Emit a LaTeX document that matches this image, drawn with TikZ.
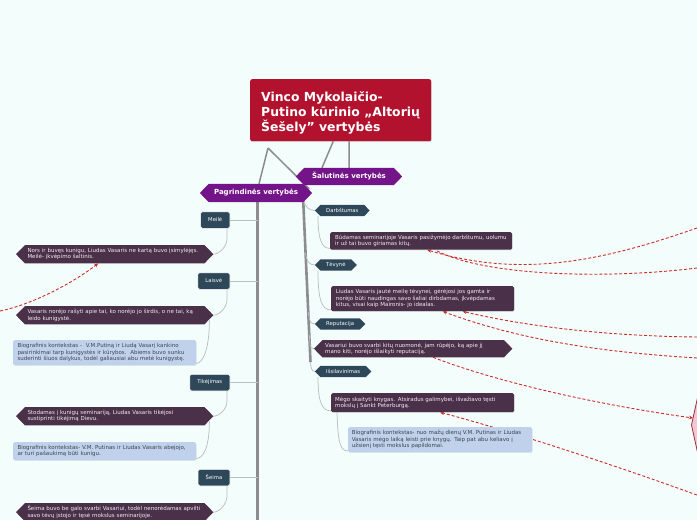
\documentclass[tikz,border=0pt]{standalone}
\usepackage{fontspec}
\setmainfont{DejaVu Sans}
\usetikzlibrary{arrows.meta,calc,shadows}
\definecolor{bgc}{HTML}{F3FEFC}
\definecolor{titlered}{HTML}{B3122E}
\definecolor{mainpurple}{HTML}{741489}
\definecolor{slate}{HTML}{2E4859}
\definecolor{notepurple}{HTML}{4A3049}
\definecolor{notetext}{HTML}{F2EEF2}
\definecolor{bluenotec}{HTML}{BFD1EB}
\definecolor{bluetext}{HTML}{3E4450}
\definecolor{connc}{HTML}{B9C0C0}
\definecolor{trunkc}{HTML}{8C8C8C}
\definecolor{relc}{HTML}{CC2B2B}
\definecolor{pinkc}{HTML}{F2C8D0}
\definecolor{pinkb}{HTML}{9E2A44}
\newcommand\fsnote{\fontsize{5.5}{6.4}\selectfont}
\newcommand\fslabel{\fontsize{5.3}{6.4}\selectfont}
\newcommand\fsmain{\fontsize{7}{8.4}\selectfont\bfseries}
\newcommand\fstitle{\fontsize{12.4}{15.3}\selectfont\bfseries}
\newcommand\LineBox[1]{\mbox{#1}}
\newcommand\hexfill[3]{\fill[#2] (#1.north west) -- (#1.north east) -- ([xshift=#3]#1.east) -- (#1.south east) -- (#1.south west) -- ([xshift=-#3]#1.west) -- cycle;}
\pgfdeclarelayer{bglayer}
\pgfdeclarelayer{edgelayer}
\pgfdeclarelayer{filllayer}
\pgfsetlayers{bglayer,edgelayer,filllayer,main}
\begin{document}
\begin{tikzpicture}[x=1pt,y=-1pt,
  conn/.style={draw=connc,line width=0.75pt},
  trunk/.style={draw=trunkc,line width=2.6pt},
  topline/.style={draw=trunkc,line width=1.5pt},
  rel/.style={draw=relc,line width=0.9pt,dash pattern=on 3pt off 2pt},
  relarrow/.style={rel,-{Stealth[length=4pt,width=3.6pt]}},
  softshadow/.style={drop shadow={opacity=0.18,shadow xshift=0.5pt,shadow yshift=-0.7pt}},
  titlebox/.style={fill=titlered,rounded corners=2pt,inner sep=0pt,drop shadow={opacity=0.25,shadow xshift=0.6pt,shadow yshift=-0.8pt}},
  titletext/.style={text=white,font=\fstitle,align=left,inner sep=0pt},
  mainlabel/.style={text=white,font=\fsmain,inner sep=0pt},
  slatebox/.style={fill=slate,draw=white,line width=0.5pt,rounded corners=1.5pt,text=white,font=\fslabel,inner xsep=7.5pt,inner ysep=0pt,minimum height=16.5pt,softshadow},
  hexlabel/.style={text=white,font=\fslabel,inner xsep=5.5pt,inner ysep=0pt,minimum height=11pt},
  darknote/.style={fill=notepurple,rounded corners=1.5pt,text=notetext,font=\fsnote,align=left,inner ysep=0pt,anchor=north west,softshadow},
  hexnote/.style={text=notetext,font=\fsnote,align=left,inner ysep=0pt,anchor=north west},
  bluenote/.style={fill=bluenotec,rounded corners=1.5pt,text=bluetext,font=\fsnote,align=left,inner ysep=0pt,anchor=north west,softshadow},
]
\useasboundingbox (0,0) rectangle (697,520);
\begin{pgfonlayer}{bglayer}
\fill[bgc] (0,0) rectangle (697,520);
\end{pgfonlayer}

% title
\node[titlebox,anchor=north west,minimum width=181pt,minimum height=62pt] (title) at (250,79) {};
\node[titletext,anchor=north west] (titletxt) at (261,91) {Vinco Mykolaičio-\\Putino kūrinio ,,Altorių\\Šešely" vertybės};

% main branches
\node[mainlabel,minimum width=94pt,minimum height=18pt] (pag) at (256,193) {Pagrindinės vertybės};
\node[mainlabel,minimum width=89pt,minimum height=17pt] (sal) at (349,176.5) {Šalutinės vertybės};

% left labels
\node[slatebox,anchor=east] (meile) at (230,220) {Meilė};
\node[slatebox,anchor=east] (laisve) at (230,281) {Laisvė};
\node[slatebox,anchor=east] (tikejimas) at (230,382.5) {Tikėjimas};
\node[slatebox,anchor=east] (seima) at (230,477.5) {Šeima};

% left notes
\node[hexnote,inner xsep=2.3pt,text width=174.4pt,minimum height=18pt] (n1) at (25,245)
  {\LineBox{Nors ir buvęs kunigu, Liudas Vasaris ne kartą buvo įsimylėjęs.}\\\LineBox{Meilė- įkvėpimo šaltinis.}};
\node[hexnote,inner xsep=2.3pt,text width=174.4pt,minimum height=18pt] (n2) at (25,306)
  {\LineBox{Vasaris norėjo rašyti apie tai, ko norėjo jo širdis, o ne tai, ką}\\\LineBox{leido kunigystė.}};
\node[bluenote,inner xsep=4.3pt,text width=174.4pt,minimum height=25pt] (n3) at (13,340)
  {\LineBox{Biografinis kontekstas -\ \ V.M.Putiną ir Liudą Vasarį kankino}\\\LineBox{pasirinkimai tarp kunigystės ir kūrybos.\ \ Abiems buvo sunku}\\\LineBox{suderinti šiuos dalykus, todėl galiausiai abu metė kunigystę.}};
\node[hexnote,inner xsep=2.3pt,text width=174.4pt,minimum height=18pt] (n4) at (25,407)
  {\LineBox{Stodamas į kunigų seminariją, Liudas Vasaris tikėjosi}\\\LineBox{sustiprinti tikėjimą Dievu.}};
\node[bluenote,inner xsep=4.3pt,text width=174.4pt,minimum height=18pt] (n5) at (13,442)
  {\LineBox{Biografinis kontekstas- V.M. Putinas ir Liudas Vasaris abejojo,}\\\LineBox{ar turi pašaukimą būti kunigu.}};
\node[hexnote,inner xsep=2.3pt,text width=174.4pt,minimum height=18pt] (n6) at (25,503)
  {\LineBox{Šeima buvo be galo svarbi Vasariui, todėl nenorėdamas apvilti}\\\LineBox{savo tėvų įstojo ir tęsė mokslus seminarijoje.}};

% right labels and notes
\node[hexlabel,anchor=west] (darb) at (320.5,210.5) {Darbštumas};
\node[darknote,inner xsep=5pt,text width=172pt,minimum height=17.5pt] (r1) at (330,232)
  {\LineBox{Būdamas seminarijoje Vasaris pasižymėjo darbštumu, uolumu}\\\LineBox{ir už tai buvo giriamas kitų.}};
\node[hexlabel,anchor=west] (tevyne) at (320.5,265) {Tėvynė};
\node[darknote,inner xsep=4.7pt,text width=173.6pt,minimum height=25pt] (r2) at (331,286)
  {\LineBox{Liudas Vasaris jautė meilę tėvynei, gėrėjosi jos gamta ir}\\\LineBox{norėjo būti naudingas savo šaliai dirbdamas, įkvėpdamas}\\\LineBox{kitus, visai kaip Maironis- jo idealas.}};
\node[hexlabel,anchor=west] (reput) at (320.5,324) {Reputacija};
\node[hexnote,inner xsep=2.5pt,text width=176pt,minimum height=17pt] (r3) at (322.5,340)
  {\LineBox{Vasariui buvo svarbi kitų nuomonė, jam rūpėjo, ką apie jį}\\\LineBox{mano kiti, norėjo išlaikyti reputaciją.}};
\node[hexlabel,anchor=west] (issil) at (320.5,371.5) {Išsilavinimas};
\node[darknote,inner xsep=4pt,text width=175pt,minimum height=19pt] (r4) at (331,393)
  {\LineBox{Mėgo skaityti knygas. Atsiradus galimybei, išvažiavo tęsti}\\\LineBox{mokslų į Sankt Peterburgą.}};
\node[bluenote,inner xsep=3.7pt,text width=176.6pt,minimum height=25pt] (r5) at (348,427)
  {\LineBox{Biografinis kontekstas- nuo mažų dienų V.M. Putinas ir Liudas}\\\LineBox{Vasaris mėgo laiką leisti prie knygų. Taip pat abu keliavo į}\\\LineBox{užsienį tęsti mokslus papildomai.}};

% free ends
\coordinate (peak) at (268,148);
\coordinate (trunkend) at (257.5,525);
\coordinate (rtop) at (302.5,185);
\coordinate (rbot) at (310.5,362);
\coordinate (xa) at (697,228);
\coordinate (xb) at (697,268);
\coordinate (xc) at (697,337);
\coordinate (xd) at (697,358);
\coordinate (xf) at (697,495);
\coordinate (xg) at (0,311);
\coordinate (pinktip) at (691.5,425);
\coordinate (pinkin) at (693,418);

% fills
\begin{pgfonlayer}{filllayer}
\hexfill{pag}{mainpurple}{9pt}
\hexfill{sal}{mainpurple}{8.5pt}
\hexfill{darb}{slate}{5.5pt}
\hexfill{tevyne}{slate}{5.5pt}
\hexfill{reput}{slate}{5.5pt}
\hexfill{issil}{slate}{5.5pt}
\hexfill{n1}{notepurple}{9pt}
\hexfill{n2}{notepurple}{9pt}
\hexfill{n4}{notepurple}{9pt}
\hexfill{n6}{notepurple}{9pt}
\hexfill{r3}{notepurple}{8.5pt}
\fill[pinkc,draw=pinkb,line width=0.8pt] (pinktip) -- (699,391) -- (720,391) -- (720,459) -- (699,459) -- cycle;
\end{pgfonlayer}

% connectors
\begin{pgfonlayer}{edgelayer}
\draw[topline] (peak) -- ([xshift=3pt]pag.north);
\draw[topline] (peak) -- ([xshift=6pt,yshift=-5pt]pag.north east);
\draw[topline] ([xshift=-7.5pt]title.south) -- ([xshift=-27pt]sal.north);
\draw[topline] ([xshift=8.5pt]title.south) -- (sal.north);

\draw[trunk] ([xshift=1.5pt]pag.south) -- (trunkend);
\draw[conn] (meile.east) -- (meile.east -| trunkend);
\draw[conn] (laisve.east) -- (laisve.east -| trunkend);
\draw[conn] (tikejimas.east) -- (tikejimas.east -| trunkend);
\draw[conn] (seima.east) -- (seima.east -| trunkend);

\draw[conn] ([xshift=-3pt]meile.south east) -- ++(0,10) .. controls +(0,8) and +(6,0) .. ([xshift=9pt]n1.east);
\draw[conn] ([xshift=-3pt]laisve.south east) -- ++(0,10) .. controls +(0,8) and +(6,0) .. ([xshift=9pt]n2.east);
\draw[conn] ([xshift=-3pt]tikejimas.south east) -- ++(0,10) .. controls +(0,8) and +(6,0) .. ([xshift=9pt]n4.east);
\draw[conn] ([xshift=-3pt]seima.south east) -- ++(0,10) .. controls +(0,8) and +(6,0) .. ([xshift=9pt]n6.east);
\draw[conn] ([xshift=5pt,yshift=4pt]n2.south east) .. controls +(0,30) and +(6,0) .. ([yshift=2pt]n3.south east);
\draw[conn] ([xshift=5pt,yshift=4pt]n4.south east) .. controls +(0,28) and +(6,0) .. ([yshift=2pt]n5.south east);

\draw[trunk] (rtop) -- (rbot);
\draw[conn] ($(rtop)!0.073!(rbot)$) .. controls +(1,9) and +(-6,0) .. ([xshift=-5.5pt]darb.west);
\draw[conn] ($(rtop)!0.384!(rbot)$) .. controls +(1,8) and +(-6,0) .. ([xshift=-5.5pt]tevyne.west);
\draw[conn] ($(rtop)!0.717!(rbot)$) .. controls +(1,8) and +(-5,0) .. ([xshift=-5.5pt]reput.west);
\draw[conn] ($(rtop)!0.847!(rbot)$) .. controls +(1,9) and +(-5,0) .. ([xshift=-8.5pt]r3.west);
\draw[conn] (rbot) .. controls +(0.5,7) and +(-3,0) .. ([xshift=-5.5pt]issil.west);
\draw[conn] ([xshift=-2.5pt]darb.south west) .. controls +(0,24) and +(-8,0) .. ([yshift=1.5pt]r1.south west);
\draw[conn] ([xshift=-2.5pt]tevyne.south west) .. controls +(0,30) and +(-9,0) .. ([yshift=1.5pt]r2.south west);
\draw[conn] ([xshift=-2.5pt]issil.south west) .. controls +(0,25) and +(-9,0) .. ([yshift=1.5pt]r4.south west);
\draw[conn] ([xshift=6pt]r4.south west) .. controls +(1,30) and +(-8,0) .. ([yshift=1.5pt]r5.south west);

% relationships
\draw[relarrow] (xa) .. controls (600,262) and (520,278) .. ([xshift=6pt]r1.south);
\draw[rel] (xb) .. controls (600,280) and (480,275) .. ([xshift=14pt]r1.south);
\draw[relarrow] (xc) .. controls (600,336) and (520,325) .. ([xshift=40pt]r2.south);
\draw[relarrow] (xd) .. controls (600,352) and (520,340) .. ([xshift=20pt]r2.south);
\draw[relarrow] ([xshift=20pt]r3.south) .. controls (500,383) and (600,405) .. (pinkin);
\draw[relarrow] (xf) .. controls (600,460) and (500,428) .. ([xshift=17.5pt]r4.south);
\draw[relarrow] (xg) .. controls (30,305) and (70,285) .. ([xshift=-16.5pt]n1.south);
\end{pgfonlayer}
\end{tikzpicture}
\end{document}
